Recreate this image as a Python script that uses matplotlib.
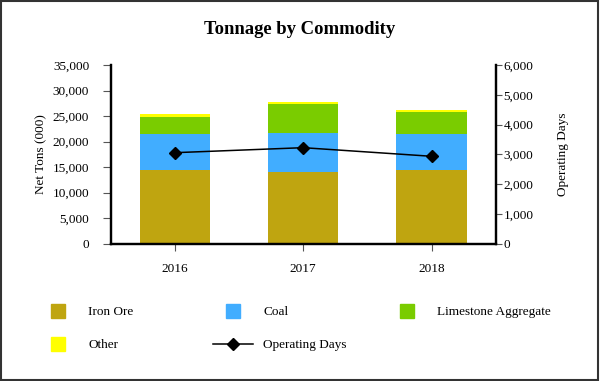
import matplotlib
matplotlib.use("Agg")
import matplotlib.pyplot as plt
import numpy as np
from matplotlib.lines import Line2D
from matplotlib.patches import Rectangle
from matplotlib.ticker import FuncFormatter, MultipleLocator

years = ["2016", "2017", "2018"]
iron_ore = [14380, 14100, 14430]
coal = [7100, 7580, 7050]
limestone = [3390, 5620, 4250]
other = [530, 510, 510]
operating_days = [3056, 3224, 2935]

series_names = ["Iron Ore", "Coal", "Limestone Aggregate", "Other"]
colors = ["#BFA510", "#41ADFF", "#7ACC00", "#FFFF00"]

plt.rcParams["font.family"] = ["Liberation Serif", "DejaVu Serif"]
FS = 9.5

W, H = 600, 381
fig = plt.figure(figsize=(W / 100, H / 100), dpi=100)
ax = fig.add_axes([110.7 / W, 1 - 243.7 / H, (495.7 - 110.7) / W, (243.7 - 65) / H])

x = np.arange(len(years))
bottom = np.zeros(len(years))
for vals, col in zip([iron_ore, coal, limestone, other], colors):
    ax.bar(x, vals, width=0.55, bottom=bottom, color=col, linewidth=0, zorder=2)
    bottom += np.array(vals)

ax.set_xlim(-0.5, 2.5)
ax.set_ylim(0, 35000)
ax.yaxis.set_major_locator(MultipleLocator(5000))
fmt = FuncFormatter(lambda v, p: f"{int(v):,}")
ax.yaxis.set_major_formatter(fmt)
ax.set_xticks(x)
ax.set_xticklabels(years)
ax.tick_params(axis="y", labelsize=FS, length=5.5, width=0.8, pad=10, color="#555555")
ax.tick_params(axis="x", labelsize=FS, length=5, width=0.8, pad=9, color="#555555")
ax.set_ylabel("Net Tons (000)", fontsize=FS, labelpad=4)
ax.spines["top"].set_visible(False)
for s in ["left", "bottom", "right"]:
    ax.spines[s].set_linewidth(1.6)

ax2 = ax.twinx()
ax2.set_ylim(0, 6000)
ax2.yaxis.set_major_locator(MultipleLocator(1000))
ax2.yaxis.set_major_formatter(fmt)
ax2.plot(x, operating_days, color="black", linewidth=1.1, marker="D", markersize=6.5, zorder=5)
ax2.tick_params(axis="y", labelsize=FS, length=4, width=0.8, pad=1.5, color="#555555")
ax2.set_ylabel("Operating Days", fontsize=FS, labelpad=17)
ax2.spines["top"].set_visible(False)
for s in ["left", "bottom", "right"]:
    ax2.spines[s].set_linewidth(1.6)

fig.text(0.5, 1 - 29 / H, "Tonnage by Commodity", ha="center", va="center",
         fontsize=13.4, fontweight="bold")

def sq(c):
    return Line2D([], [], marker="s", linestyle="none", markersize=9.6,
                  markerfacecolor=c, markeredgecolor=c)

line_handle = Line2D([], [], color="black", linewidth=1.1, marker="D", markersize=6.5)

cols = [
    ([sq(colors[0]), sq(colors[3])], [series_names[0], series_names[3]], 38.3),
    ([sq(colors[1]), line_handle], [series_names[1], "Operating Days"], 213.0),
    ([sq(colors[2])], [series_names[2]], 387.3),
]
fs_px = FS * 100 / 72
for hs, ls, xl in cols:
    fig.legend(hs, ls, loc="upper left", bbox_to_anchor=(xl / W, 1 - 306.0 / H),
               frameon=False, fontsize=FS, handlelength=40 / fs_px,
               handletextpad=10 / fs_px, borderpad=0, borderaxespad=0,
               labelspacing=1.57)

fig.patches.append(Rectangle((0.5 / W, 0.8 / H), (W - 2.5) / W, (H - 2) / H,
                             transform=fig.transFigure, fill=False,
                             edgecolor="#333333", linewidth=1.5))

fig.savefig("out.png", dpi=100)
